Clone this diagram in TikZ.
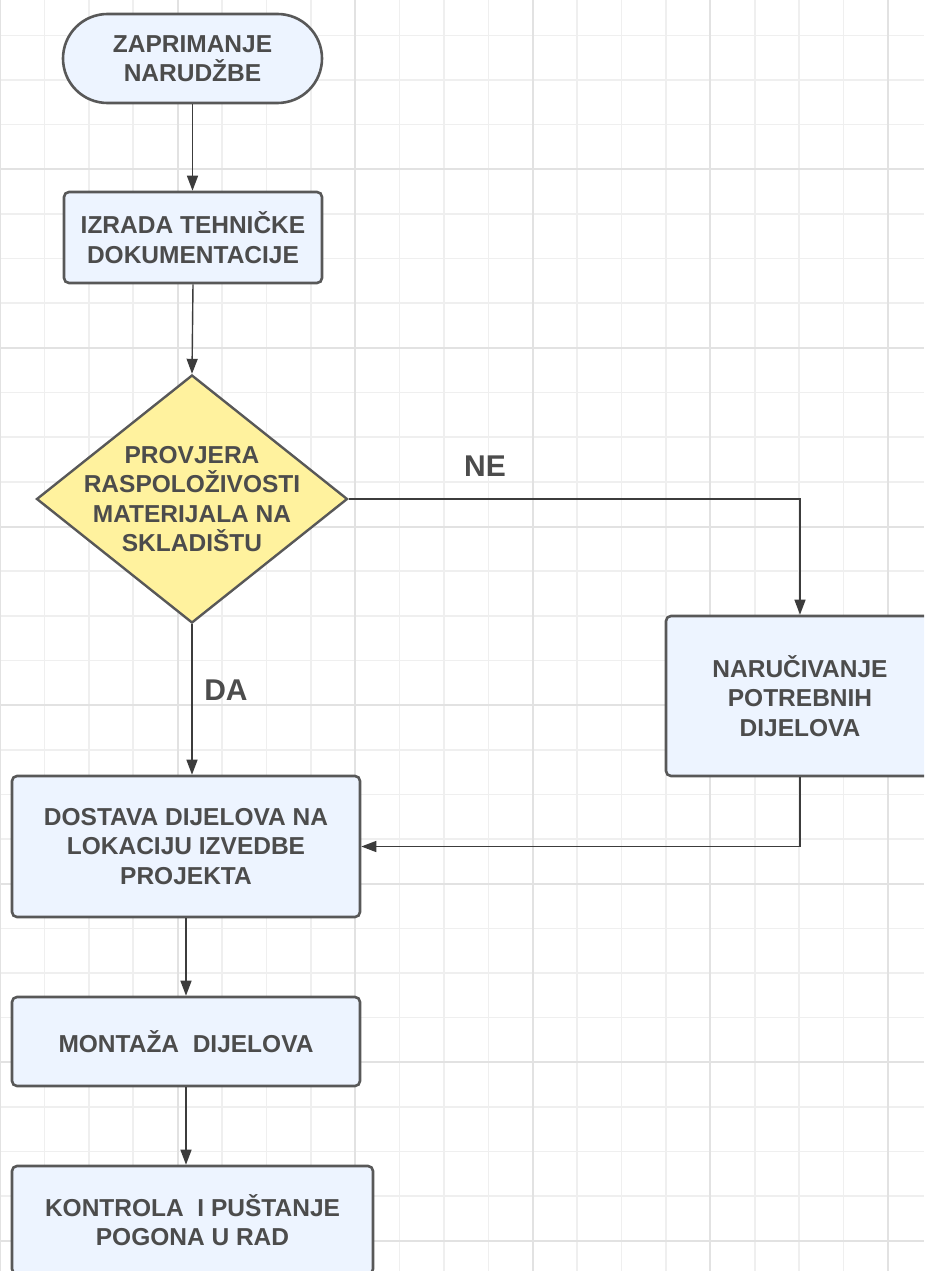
\documentclass[tikz,border=0pt]{standalone}
\usepackage{fontspec}
\setmainfont{Liberation Sans}
\usetikzlibrary{shapes.geometric,arrows.meta}

\definecolor{boxfill}{HTML}{EDF4FF}
\definecolor{boxline}{HTML}{585858}
\definecolor{decfill}{HTML}{FFF29E}
\definecolor{txtgray}{HTML}{4C4C4C}
\definecolor{gridminor}{HTML}{EFEFEF}
\definecolor{gridmajor}{HTML}{E2E2E2}
\definecolor{linegray}{HTML}{3C3C3C}

\begin{document}
\begin{tikzpicture}[x=1pt, y=-1pt,
    txt/.style={align=center, text=txtgray, font=\fontsize{24.5}{29.5}\selectfont\bfseries},
    terminal/.style={txt, draw=boxline, fill=boxfill, line width=2.6pt, rounded corners=44.5pt, minimum width=259pt, minimum height=89pt},
    process/.style={txt, draw=boxline, fill=boxfill, line width=2.6pt, rounded corners=5pt},
    decision/.style={diamond, draw=boxline, fill=decfill, line width=2.4pt, inner sep=0pt, minimum width=311pt, minimum height=248pt},
    conn/.style={draw=linegray, line width=1.4pt},
    arr/.style={conn, -{Triangle[length=15pt,width=11pt]}},
    branch/.style={text=txtgray, font=\fontsize{30}{36}\selectfont\bfseries}]
    \useasboundingbox (0,0) rectangle (924,1271);
    \clip (0,0) rectangle (924,1271);
    \fill[white] (0,0) rectangle (924,1271);

    % grid paper
    \foreach \gx in {0,...,21} \draw[gridminor, line width=1.6pt] ({\gx*44.4},0) -- ({\gx*44.4},1271);
    \foreach \gy in {0,...,29} \draw[gridminor, line width=1.6pt] (0,{\gy*44.65-9.3}) -- (924,{\gy*44.65-9.3});
    \foreach \gx in {0,...,5} \draw[gridmajor, line width=2pt] ({\gx*177.6},0) -- ({\gx*177.6},1271);
    \foreach \gy in {0,...,7} \draw[gridmajor, line width=2pt] (0,{\gy*178.6-9.3}) -- (924,{\gy*178.6-9.3});

    \node[terminal] (start) at (192.5,58.5) {ZAPRIMANJE\\NARUDŽBE};
    \node[process, minimum width=258pt, minimum height=91pt] (docs) at (193,237.5) {IZRADA TEHNIČKE\\DOKUMENTACIJE};
    \node[decision] (check) at (192,499) {};
    \node[txt] (checktext) at (check.center) {PROVJERA\\RASPOLOŽIVOSTI\\MATERIJALA NA\\SKLADIŠTU};
    \node[process, minimum width=268pt, minimum height=160pt] (order) at (800,696) {NARUČIVANJE\\POTREBNIH\\DIJELOVA};
    \node[process, minimum width=348pt, minimum height=141pt] (deliver) at (186,846.5) {DOSTAVA DIJELOVA NA\\LOKACIJU IZVEDBE\\PROJEKTA};
    \node[process, minimum width=348pt, minimum height=89pt] (mount) at (186,1041.5) {MONTAŽA\ \ DIJELOVA};
    \node[process, minimum width=361pt, minimum height=108pt] (control) at (192.5,1220) {KONTROLA\ \ I PUŠTANJE\\POGONA U RAD};

    \draw[arr] (start.south) -- (start.south |- docs.north);
    \draw[arr] (docs.south) -- (check.north);
    \draw[arr] (check.east) -| (order.north);
    \draw[arr] (check.south) -- (check.south |- deliver.north);
    \draw[arr] (order.south) |- (deliver.east);
    \draw[arr] (deliver.south) -- (mount.north);
    \draw[arr] (mount.south) -- (mount.south |- control.north);

    \node[branch] (ne) at (485,466) {NE};
    \node[branch] (da) at (226,690) {DA};
\end{tikzpicture}
\end{document}
